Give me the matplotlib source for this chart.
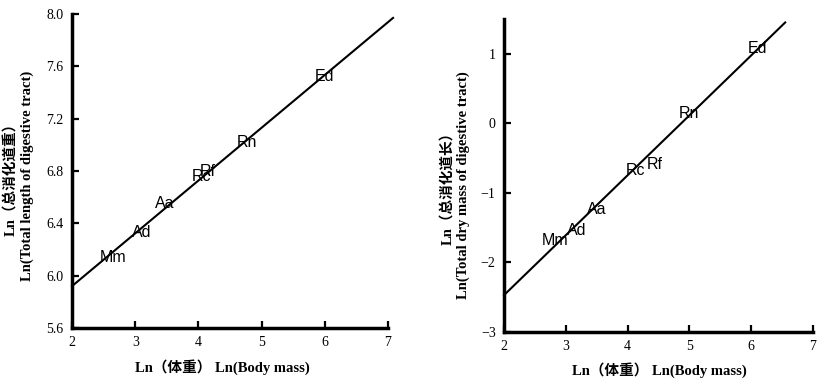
import matplotlib
matplotlib.use("Agg")
import matplotlib.pyplot as plt

species = ['Mm', 'Ad', 'Aa', 'Rc', 'Rf', 'Rn', 'Ed']

left_x = [2.65, 3.10, 3.47, 4.05, 4.15, 4.77, 6.00]
left_y = [6.14, 6.33, 6.55, 6.76, 6.80, 7.02, 7.52]
left_line_x = [2.0, 7.08]
left_line_y = [5.92, 7.97]

right_x = [2.83, 3.18, 3.50, 4.12, 4.44, 5.00, 6.10]
right_y = [-1.68, -1.54, -1.24, -0.68, -0.59, 0.14, 1.08]
right_line_x = [2.0, 6.55]
right_line_y = [-2.47, 1.45]

x_ticks = [2, 3, 4, 5, 6, 7]
left_yticks = [5.6, 6.0, 6.4, 6.8, 7.2, 7.6, 8.0]
left_yticklabels = ['5.6', '6.0', '6.4', '6.8', '7.2', '7.6', '8.0']
right_yticks = [-3, -2, -1, 0, 1]
right_yticklabels = ['\u22123', '\u22122', '\u22121', '0', '1']

xlabel = 'Ln（体重） Ln(Body mass)'
left_ylabel = 'Ln（总消化道重）\nLn(Total length of digestive tract)'
right_ylabel = 'Ln（总消化道长）\nLn(Total dry mass of digestive tract)'

serif = ['Liberation Serif', 'Noto Sans CJK SC', 'DejaVu Sans']
sans = ['Liberation Sans', 'DejaVu Sans']

fig = plt.figure(figsize=(8.17, 3.83), dpi=100)

def style(ax, xlim, ylim, yticks, yticklabels):
    ax.set_xlim(*xlim)
    ax.set_ylim(*ylim)
    for s in ['top', 'right']:
        ax.spines[s].set_visible(False)
    for s in ['left', 'bottom']:
        ax.spines[s].set_linewidth(2.5)
        ax.spines[s].set_color('black')
    ax.set_xticks(x_ticks)
    ax.set_xticklabels([str(t) for t in x_ticks], family=serif, fontsize=10)
    ax.set_yticks(yticks)
    ax.set_yticklabels(yticklabels, family=serif, fontsize=10)
    ax.tick_params(direction='in', length=5, width=1.6, pad=6)

ax1 = fig.add_axes([72/817, 55/383, 316/817, 314/383])
style(ax1, (2, 7), (5.6, 8.0), left_yticks, left_yticklabels)
ax1.plot(left_line_x, left_line_y, color='black', lw=1.5, clip_on=False)
for s, x, y in zip(species, left_x, left_y):
    ax1.text(x, y, s, ha='center', va='center', family=sans, fontsize=11.5)

ax2 = fig.add_axes([504/817, 51/383, 309/817, 313/383])
style(ax2, (2, 7), (-3, 1.5), right_yticks, right_yticklabels)
ax2.plot(right_line_x, right_line_y, color='black', lw=1.5, clip_on=False)
for s, x, y in zip(species, right_x, right_y):
    ax2.text(x, y, s, ha='center', va='center', family=sans, fontsize=11.5)

fig.text(222/817, 1 - 367/383, xlabel, ha='center', va='center', family=serif,
         fontsize=10.5, fontweight='bold')
fig.text(659/817, 1 - 370/383, xlabel, ha='center', va='center', family=serif,
         fontsize=10.5, fontweight='bold')
fig.text(19/817, 1 - 176/383, left_ylabel, ha='center', va='center', rotation=90,
         family=serif, fontsize=10.5, fontweight='bold', linespacing=1.25,
         multialignment='center')
fig.text(455/817, 1 - 185/383, right_ylabel, ha='center', va='center', rotation=90,
         family=serif, fontsize=10.5, fontweight='bold', linespacing=1.25,
         multialignment='center')

fig.savefig('out.png', dpi=100)
